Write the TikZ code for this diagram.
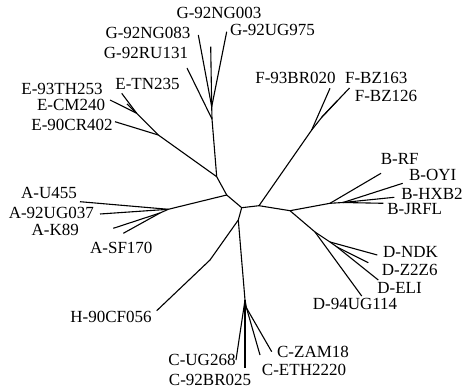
\documentclass[tikz,border=0pt]{standalone}
\usepackage{fontspec}
\setmainfont{Liberation Serif}
\begin{document}
\begin{tikzpicture}[x=1pt,y=-1pt,
  br/.style={line width=1.1pt,line join=miter},
  lab/.style={inner sep=0pt,text height=0.66em,text depth=0pt,font=\fontsize{17}{20}\selectfont}]
\useasboundingbox (0,0) rectangle (463,390);
% internal nodes
\coordinate (nEG) at (216.7,176.7);
\coordinate (nA0) at (226.7,195);
\coordinate (nC0) at (241.7,207.7);
\coordinate (nHC) at (238.3,220);
\coordinate (nF0) at (259,205.7);
\coordinate (nBD) at (290,210.7);
\coordinate (nE1) at (158.3,135);
\coordinate (nE2) at (136.7,113.3);
\coordinate (nG1) at (212,119);
\coordinate (nG2) at (211.7,106.7);
\coordinate (nA) at (168.3,209.3);
\coordinate (nA2) at (160,213);
\coordinate (nH) at (210,260);
\coordinate (nC1) at (245,300);
\coordinate (nC2) at (246.5,308);
\coordinate (nF1) at (311.7,130);
\coordinate (nF2) at (322,117);
\coordinate (nB1) at (330,203.3);
\coordinate (nB2) at (343,202.5);
\coordinate (nD1) at (315,232);
\coordinate (nD2) at (330,242);
\coordinate (nD3) at (337,247);
% leaf tips
\coordinate (tRU131) at (187,68);
\coordinate (tNG083) at (198.3,35);
\coordinate (tNG003) at (210.7,46.7);
\coordinate (tUG975) at (226.7,31.7);
\coordinate (tTN235) at (121.7,93.3);
\coordinate (tTH253) at (110,100);
\coordinate (tCM240) at (127,104);
\coordinate (tCR402) at (115,121.7);
\coordinate (tU455) at (80,201.7);
\coordinate (tUG037) at (100,214);
\coordinate (tK89) at (113.3,228.3);
\coordinate (tSF170) at (123.3,233.3);
\coordinate (tH) at (156.7,310.7);
\coordinate (tUG268) at (236,360);
\coordinate (tBR025) at (245,368);
\coordinate (tETH) at (260,355);
\coordinate (tZAM) at (271.7,351.7);
\coordinate (tBR020) at (330,88.3);
\coordinate (tBZ126) at (349.5,88);
\coordinate (tBZ163) at (337.3,100.7);
\coordinate (tRF) at (381,173.3);
\coordinate (tOYI) at (402.7,183.3);
\coordinate (tHXB2) at (394.3,197.3);
\coordinate (tJRFL) at (383.3,203.3);
\coordinate (tUG114) at (361.7,296);
\coordinate (tNDK) at (377.3,255);
\coordinate (tZ2Z6) at (368.3,262.7);
\coordinate (tELI) at (378.3,280);
% backbone
\draw[br] (nEG) -- (nA0) -- (nC0) -- (nF0) -- (nBD);
\draw[br] (nC0) -- (nHC);
% E
\draw[br] (nEG) -- (nE1) -- (nE2);
\draw[br] (nE1) -- (tCR402);
\draw[br] (nE2) -- (tTN235);
\draw[br] (nE2) -- (tTH253);
\draw[br] (nE2) -- (tCM240);
% G
\draw[br] (nEG) -- (nG1) -- (nG2);
\draw[br] (nG1) -- (tRU131);
\draw[br] (nG2) -- (tNG083);
\draw[br] (nG2) -- (tNG003);
\draw[br] (nG2) -- (tUG975);
% A
\draw[br] (nA0) -- (nA);
\draw[br] (nA) -- (tU455);
\draw[br] (nA) -- (tUG037);
\draw[br] (nA) -- (nA2);
\draw[br] (nA2) -- (tK89);
\draw[br] (nA2) -- (tSF170);
% H
\draw[br] (nHC) -- (nH) -- (tH);
% C
\draw[br] (nHC) -- (nC1) -- (nC2);
\draw[br] (nC1) -- (tUG268);
\draw[br] (nC1) -- (tBR025);
\draw[br] (nC2) -- (tETH);
\draw[br] (nC2) -- (tZAM);
% F
\draw[br] (nF0) -- (nF1) -- (nF2);
\draw[br] (nF1) -- (tBR020);
\draw[br] (nF2) -- (tBZ126);
\draw[br] (nF2) -- (tBZ163);
% B
\draw[br] (nBD) -- (nB1) -- (nB2);
\draw[br] (nB1) -- (tRF);
\draw[br] (nB2) -- (tOYI);
\draw[br] (nB2) -- (tHXB2);
\draw[br] (nB2) -- (tJRFL);
% D
\draw[br] (nBD) -- (nD1) -- (nD2) -- (nD3);
\draw[br] (nD1) -- (tUG114);
\draw[br] (nD2) -- (tNDK);
\draw[br] (nD3) -- (tZ2Z6);
\draw[br] (nD3) -- (tELI);
% labels
\node[lab] (lNG003) at (219,15) {G-92NG003};
\node[lab] (lUG975) at (272.5,32) {G-92UG975};
\node[lab] (lNG083) at (148,35) {G-92NG083};
\node[lab] (lRU131) at (146,55) {G-92RU131};
\node[lab] (lTN235) at (147.5,86) {E-TN235};
\node[lab] (lTH253) at (62,91) {E-93TH253};
\node[lab] (lCM240) at (71,107) {E-CM240};
\node[lab] (lCR402) at (72,127.7) {E-90CR402};
\node[lab] (lU455) at (49,195) {A-U455};
\node[lab] (lUG037) at (51.3,215) {A-92UG037};
\node[lab] (lK89) at (55.3,232.7) {A-K89};
\node[lab] (lSF170) at (121.3,250) {A-SF170};
\node[lab] (lH) at (111,319) {H-90CF056};
\node[lab] (lUG268) at (202,361.7) {C-UG268};
\node[lab] (lBR025) at (210,381.7) {C-92BR025};
\node[lab] (lETH) at (304,371.7) {C-ETH2220};
\node[lab] (lZAM) at (313,354.3) {C-ZAM18};
\node[lab] (lBR020) at (295.5,80) {F-93BR020};
\node[lab] (lBZ163) at (376.3,80) {F-BZ163};
\node[lab] (lBZ126) at (386,98.3) {F-BZ126};
\node[lab] (lRF) at (399.7,161.7) {B-RF};
\node[lab] (lOYI) at (432.7,177.3) {B-OYI};
\node[lab] (lHXB2) at (432,196) {B-HXB2};
\node[lab] (lJRFL) at (414.7,211) {B-JRFL};
\node[lab] (lNDK) at (410.5,254.5) {D-NDK};
\node[lab] (lZ2Z6) at (409.7,272) {D-Z2Z6};
\node[lab] (lELI) at (399.5,289.7) {D-ELI};
\node[lab] (lUG114) at (355,306) {D-94UG114};
\end{tikzpicture}
\end{document}
